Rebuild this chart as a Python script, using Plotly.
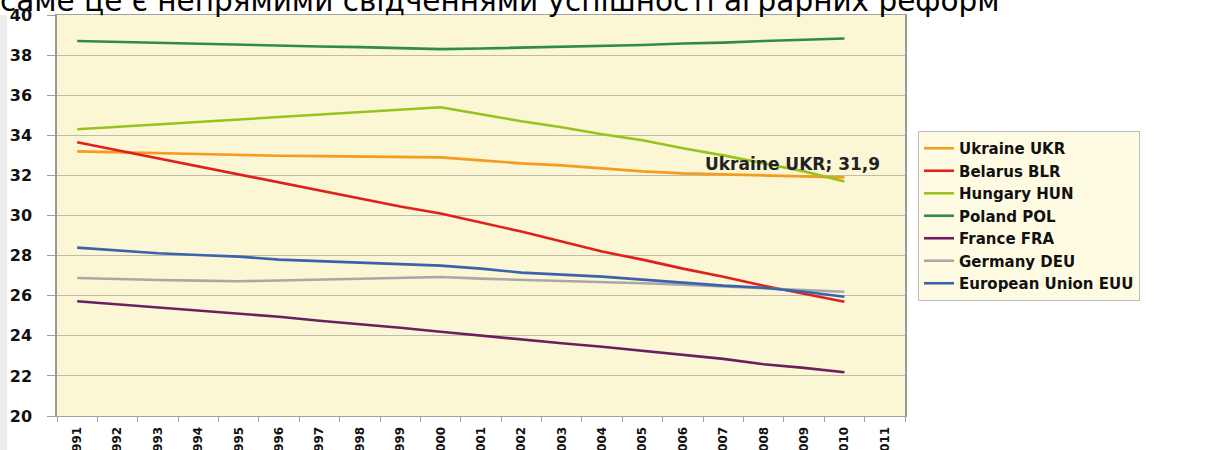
import plotly.graph_objects as go

# ---------------- data ----------------
years = [1991, 1992, 1993, 1994, 1995, 1996, 1997, 1998, 1999, 2000,
         2001, 2002, 2003, 2004, 2005, 2006, 2007, 2008, 2009, 2010]
axis_years = years + [2011]
axis_labels = [str(y) for y in axis_years]

ukraine = [33.2, 33.15, 33.1, 33.05, 33.0, 32.98, 32.96, 32.94, 32.92, 32.9,
           32.75, 32.6, 32.5, 32.35, 32.2, 32.1, 32.05, 32.0, 31.95, 31.9]
belarus = [33.65, 33.25, 32.85, 32.45, 32.05, 31.65, 31.25, 30.85, 30.45, 30.1,
           29.65, 29.2, 28.7, 28.2, 27.8, 27.35, 26.95, 26.5, 26.1, 25.7]
hungary = [34.3, 34.42, 34.54, 34.66, 34.78, 34.9, 35.02, 35.14, 35.26, 35.4,
           35.05, 34.7, 34.4, 34.05, 33.75, 33.35, 33.0, 32.6, 32.2, 31.7]
poland = [38.7, 38.65, 38.6, 38.55, 38.5, 38.47, 38.43, 38.4, 38.35, 38.3,
          38.33, 38.37, 38.4, 38.45, 38.5, 38.58, 38.62, 38.7, 38.75, 38.83]
france = [25.72, 25.57, 25.42, 25.27, 25.12, 24.95, 24.75, 24.58, 24.4, 24.2,
          24.0, 23.82, 23.63, 23.45, 23.25, 23.05, 22.85, 22.58, 22.4, 22.18]
germany = [26.88, 26.82, 26.78, 26.75, 26.72, 26.76, 26.8, 26.85, 26.9, 26.93,
           26.85, 26.8, 26.75, 26.68, 26.62, 26.55, 26.45, 26.35, 26.28, 26.2]
euu = [28.4, 28.25, 28.12, 28.03, 27.95, 27.8, 27.72, 27.65, 27.58, 27.5,
       27.35, 27.15, 27.05, 26.95, 26.8, 26.65, 26.5, 26.4, 26.2, 25.95]

series_names = ["Ukraine UKR", "Belarus BLR", "Hungary HUN", "Poland POL",
                "France FRA", "Germany DEU", "European Union EUU"]
series_values = [ukraine, belarus, hungary, poland, france, germany, euu]
series_colors = ["#F39C1F", "#E0201C", "#98C21E", "#2F8A4C",
                 "#6C1F5F", "#A8A8A8", "#3B62AC"]

title_text = "саме це є непрямими свідченнями успішності аграрних реформ"
label_text = "Ukraine UKR; 31,9"

FONT = "DejaVu Sans, Verdana, sans-serif"

fig = go.Figure()
for name, vals, col in zip(series_names, series_values, series_colors):
    fig.add_trace(go.Scatter(x=years, y=vals, name=name, mode="lines",
                             line=dict(color=col, width=2.6)))

L, R, T, B = 57, 311, 15, 34
W, H = 1216, 450
pw = W - L - R
ph = H - T - B

fig.update_layout(
    width=W, height=H, autosize=False,
    margin=dict(l=L, r=R, t=T, b=B, pad=0),
    paper_bgcolor="white",
    plot_bgcolor="#FBF6D4",
    font=dict(family=FONT, color="black"),
    showlegend=True,
    legend=dict(
        x=(918 - L) / pw, y=1 - (131 - T) / ph,
        xanchor="left", yanchor="top",
        bgcolor="#FFFBE3", bordercolor="#BDBDBD", borderwidth=1,
        font=dict(family=FONT, size=15, color="#111111", weight="bold"),
        tracegroupgap=0,
    ),
)

fig.update_xaxes(
    range=[axis_years[0] - 0.5, axis_years[-1] + 0.5],
    tickmode="array", tickvals=axis_years, ticktext=axis_labels,
    tickangle=-90,
    ticks="outside", ticklen=5, tickcolor="rgba(0,0,0,0)",
    tickfont=dict(family=FONT, size=12, color="#111111", weight="bold"),
    minor=dict(tickmode="array",
               tickvals=[y - 0.5 for y in axis_years] + [axis_years[-1] + 0.5],
               ticks="outside", ticklen=5, tickcolor="#A0A0A0", showgrid=False),
    showgrid=False, zeroline=False,
    showline=True, linecolor="#A0A0A0", linewidth=1, mirror=True,
    automargin=False,
)
fig.update_yaxes(
    range=[20, 40], dtick=2, tick0=20,
    ticks="outside", ticklen=8, tickcolor="#A0A0A0",
    tickfont=dict(family=FONT, size=16, color="#111111", weight="bold"),
    ticklabelstandoff=12,
    showgrid=True, gridcolor="#BFBCAA", gridwidth=1, zeroline=False,
    showline=True, linecolor="#999999", linewidth=1.5, mirror=True,
    automargin=False,
)

# cropped heading text at the top
fig.add_annotation(
    text=title_text, xref="paper", yref="paper", x=0, y=1,
    xanchor="left", yanchor="bottom", xshift=-L - 2, yshift=-5,
    showarrow=False, font=dict(family=FONT, size=29.5, color="black"),
)

# data label for Ukraine's last point
fig.add_annotation(
    text=label_text, x=years[-1], y=ukraine[-1], xref="x", yref="y",
    xanchor="right", yanchor="middle", xshift=38, yshift=13,
    showarrow=False, font=dict(family=FONT, size=17, color="#222222", weight="bold"),
)

# faint grey strip on the far left
fig.add_shape(type="rect", xref="paper", yref="paper",
              x0=-L / pw, x1=(-L + 7) / pw, y0=-B / ph, y1=1,
              fillcolor="#EDEDED", line=dict(width=0), layer="below")

fig.write_html("out.html", config={"displayModeBar": False},
               post_script="document.body.style.margin='0';")
